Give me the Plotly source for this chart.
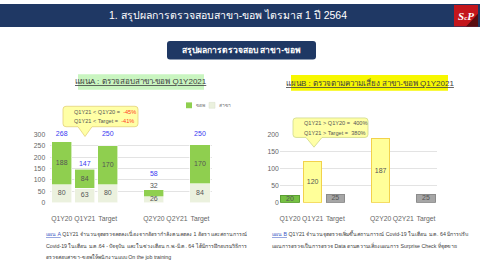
import plotly.graph_objects as go

# ---------------- data ----------------
cats_a = ["Q1Y20", "Q1Y21", "Target", "", "Q2Y20", "Q2Y21", "Target"]
branch_a = [80, 63, 80, None, 26, None, 84]      # สาขา (light)
kop_a = [188, 84, 170, None, 32, None, 170]      # ขอพ (green)
total_a = [268, 147, 250, None, 58, None, 250]

cats_b = ["Q1Y20", "Q1Y21", "Target", "", "Q2Y20", "Q2Y21", "Target"]
vals_b = [20, 120, 25, None, 187, None, 25]
kind_b = ["prev", "curr", "target", None, "curr", None, "target"]

W, H = 480, 270
def X(p): return p / W
def Y(p): return 1 - p / H

FONT = "Tahoma, 'Liberation Sans', 'Noto Sans', sans-serif"
GREEN = "#8fcf4f"
LIGHT = "#ebf1de"
GRID = "#e3e3e3"
TICK = "#666666"
TXT = "#404040"
NAVY = "#1f3864"

fig = go.Figure()

idx_a = list(range(len(cats_a)))
fig.add_trace(go.Bar(x=idx_a, y=branch_a, marker=dict(color=LIGHT, line=dict(color="#ffffff", width=0.6)),
                     xaxis="x", yaxis="y", showlegend=False, hoverinfo="skip"))
fig.add_trace(go.Bar(x=idx_a, y=kop_a, marker=dict(color=GREEN, line=dict(color="#ffffff", width=0.6)),
                     xaxis="x", yaxis="y", showlegend=False, hoverinfo="skip"))

# inner / outer labels chart A
lx, ly, lt = [], [], []
ox, oy, ot = [], [], []
tx, ty, tt = [], [], []
for i, (b, k, t) in enumerate(zip(branch_a, kop_a, total_a)):
    if b is None:
        continue
    lx.append(i); ly.append(b / 2); lt.append(str(b))
    if k >= 40:
        lx.append(i); ly.append(b + k / 2); lt.append(str(k))
        ty.append(300 if t >= 200 else t + 24)
    else:
        ox.append(i); oy.append(t + 16); ot.append(str(k))
        ty.append(t + 66)
    tx.append(i); tt.append(str(t))
fig.add_trace(go.Scatter(x=lx + ox, y=ly + oy, text=lt + ot, mode="text",
                         textfont=dict(size=7, color="#555555", family=FONT),
                         xaxis="x", yaxis="y", showlegend=False, hoverinfo="skip", cliponaxis=False))
fig.add_trace(go.Scatter(x=tx, y=ty, text=tt, mode="text",
                         textfont=dict(size=7, color="#3b3bf0", family=FONT),
                         xaxis="x", yaxis="y", showlegend=False, hoverinfo="skip", cliponaxis=False))

# chart B
idx_b = list(range(len(cats_b)))
fillmap = {"prev": "#76c043", "curr": "#ffff99", "target": "#a6a6a6", None: "rgba(0,0,0,0)"}
linemap = {"prev": "#5a9e32", "curr": "#f2d24b", "target": "#8c8c8c", None: "rgba(0,0,0,0)"}
fig.add_trace(go.Bar(x=idx_b, y=vals_b,
                     marker=dict(color=[fillmap[k] for k in kind_b],
                                 line=dict(color=[linemap[k] for k in kind_b], width=1)),
                     width=0.8,
                     xaxis="x2", yaxis="y2", showlegend=False, hoverinfo="skip"))
bx = [i for i, v in enumerate(vals_b) if v is not None]
fig.add_trace(go.Scatter(x=bx, y=[vals_b[i] / 2 for i in bx], text=[str(vals_b[i]) for i in bx],
                         mode="text", textfont=dict(size=7, color="#555555", family=FONT),
                         xaxis="x2", yaxis="y2", showlegend=False, hoverinfo="skip", cliponaxis=False))

axfont = dict(size=6.8, color=TICK, family=FONT)
fig.update_layout(
    width=W, height=H, margin=dict(l=0, r=0, t=0, b=0),
    paper_bgcolor="white", plot_bgcolor="white",
    barmode="stack", bargap=0.13,
    font=dict(family=FONT),
    xaxis=dict(domain=[X(50.2), X(211.5)], range=[-0.5, 6.5], tickvals=idx_a, ticktext=cats_a,
               showgrid=False, zeroline=False, showline=False, ticks="", tickfont=axfont, anchor="y",
               tickangle=0, ticklabelstandoff=10),
    yaxis=dict(domain=[Y(204), Y(134)], range=[0, 300], dtick=50, showgrid=True, gridcolor=GRID,
               gridwidth=1, zeroline=False, showline=False, ticks="", tickfont=axfont, anchor="x",
               ticklabelstandoff=4),
    xaxis2=dict(domain=[X(279.8), X(437.3)], range=[-0.45, 6.5], tickvals=idx_b, ticktext=cats_b,
                showgrid=False, zeroline=False, showline=False, ticks="", tickfont=axfont, anchor="y2",
                tickangle=0, ticklabelstandoff=10),
    yaxis2=dict(domain=[Y(204), Y(134)], range=[0, 200], dtick=50, showgrid=True, gridcolor=GRID,
                gridwidth=1, zeroline=False, showline=False, ticks="", tickfont=axfont, anchor="x2"),
)

shapes = []
ann = []

def note(x, y, text, size, color, anchor="center", family=FONT):
    ann.append(dict(x=X(x), y=Y(y), xref="paper", yref="paper", showarrow=False,
                    xanchor=anchor, yanchor="middle", text=text,
                    font=dict(size=size, color=color, family=family)))

# header band
shapes.append(dict(type="rect", xref="paper", yref="paper", x0=0, x1=1, y0=Y(23.5), y1=1,
                   fillcolor=NAVY, line=dict(width=0), layer="below"))
note(228, 12, "1. สรุปผลการตรวจสอบสาขา-ขอพ ไตรมาส 1 ปี 2564", 10.5, "white")
# logo
shapes.append(dict(type="rect", xref="paper", yref="paper", x0=X(454), x1=X(478), y0=Y(23), y1=Y(1),
                   fillcolor="#c4161c", line=dict(width=0)))
shapes.append(dict(type="path", xref="paper", yref="paper",
                   path=f"M {X(466)},{Y(23)} L {X(478)},{Y(23)} L {X(478)},{Y(10)} Z",
                   fillcolor="#5a0d10", line=dict(width=0)))
note(466, 12, "<i><b>S<span style='font-size:7px'>c</span>P</b></i>", 11, "white",
     family="'Liberation Serif', serif")

# subtitle box
def rrect(x0, y0, x1, y1, r):
    rx, ry = r / W, r / H
    a, b, c, d = X(x0), Y(y1), X(x1), Y(y0)
    return (f"M {a+rx},{b} L {c-rx},{b} Q {c},{b} {c},{b+ry} L {c},{d-ry} Q {c},{d} {c-rx},{d} "
            f"L {a+rx},{d} Q {a},{d} {a},{d-ry} L {a},{b+ry} Q {a},{b} {a+rx},{b} Z")

shapes.append(dict(type="path", xref="paper", yref="paper", path=rrect(167, 38, 316, 57, 3),
                   fillcolor=NAVY, line=dict(width=0)))
note(241.5, 47.5, "<b>สรุปผลการตรวจสอบ สาขา-ขอพ</b>", 8.5, "white")

# chart titles
shapes.append(dict(type="rect", xref="paper", yref="paper", x0=X(78), x1=X(204), y0=Y(88), y1=Y(72),
                   fillcolor="#c9f5c0", line=dict(width=0)))
note(141, 80, "<span style='text-decoration:underline'>แผนA : ตรวจสอบสาขา-ขอพ Q1Y2021</span>", 8, TXT)
shapes.append(dict(type="rect", xref="paper", yref="paper", x0=X(291), x1=X(448), y0=Y(89), y1=Y(73),
                   fillcolor="#f7f700", line=dict(width=0)))
note(369.5, 81, "<span style='text-decoration:underline'>แผนB : ตรวจตามความเสี่ยง สาขา-ขอพ Q1Y2021</span>", 8, TXT)

# legend (chart A)
shapes.append(dict(type="rect", xref="paper", yref="paper", x0=X(186), x1=X(192), y0=Y(107), y1=Y(101),
                   fillcolor=GREEN, line=dict(width=0)))
note(194, 104, "ขอพ", 5, "#777777", "left")
shapes.append(dict(type="rect", xref="paper", yref="paper", x0=X(209), x1=X(215), y0=Y(107), y1=Y(101),
                   fillcolor=LIGHT, line=dict(color="#d8dfc8", width=0.5)))
note(217, 104, "สาขา", 5, "#777777", "left")

# callouts
def callout(x0, y0, x1, y1, bx0, bx1, tipx, tipy, r=3):
    rx, ry = r / W, r / H
    a, b, c, d = X(x0), Y(y1), X(x1), Y(y0)
    return (f"M {a+rx},{b} L {X(bx0)},{b} L {X(tipx)},{Y(tipy)} L {X(bx1)},{b} L {c-rx},{b} "
            f"Q {c},{b} {c},{b+ry} L {c},{d-ry} Q {c},{d} {c-rx},{d} "
            f"L {a+rx},{d} Q {a},{d} {a},{d-ry} L {a},{b+ry} Q {a},{b} {a+rx},{b} Z")

shapes.append(dict(type="path", xref="paper", yref="paper",
                   path=callout(63, 105, 138, 126, 78, 92, 85, 136),
                   fillcolor="#ffffa6", line=dict(color="#e3d27a", width=0.8)))
note(72, 111, "Q1Y21 < Q1Y20 =  <span style='color:#ff3b1f'>-45%</span>", 5.6, "#555555", "left")
note(72, 120, "Q1Y21 < Target =  <span style='color:#ff3b1f'>-41%</span>", 5.6, "#555555", "left")

shapes.append(dict(type="path", xref="paper", yref="paper",
                   path=callout(293, 117, 368, 137, 306, 322, 314, 147),
                   fillcolor="#ffffa6", line=dict(color="#cfd98a", width=0.8)))
note(302, 122, "Q1Y21 > Q1Y20 =  400%", 5.6, "#555555", "left")
note(302, 132, "Q1Y21 > Target =  380%", 5.6, "#555555", "left")

# bottom notes
note_a = ["<span style='color:#3a57c4;text-decoration:underline'>แผน A</span> Q1Y21 จำนวนจุดตรวจลดลงเนื่องจากอัตรากำลังคนลดลง 1 อัตรา และสถานการณ์",
          "Covid-19 ในเดือน ม.ค.64 - ปัจจุบัน และในช่วงเดือน ก.พ.-มี.ค. 64 ได้มีการฝึกอบรมวิธีการ",
          "ตรวจสอบสาขา-ขอพให้พนักงานแบบ On the job training"]
note_b = ["<span style='color:#3a57c4;text-decoration:underline'>แผน B</span> Q1Y21 จำนวนจุดตรวจเพิ่มขึ้นสถานการณ์ Covid-19 ในเดือน ม.ค. 64 มีการปรับ",
          "แผนการตรวจเป็นการตรวจ Data ตามความเสี่ยงแผนการ Surprise Check ที่จุดขาย"]
for i, line in enumerate(note_a):
    note(44, 236 + 12 * i, line, 5.25, TXT, "left")
for i, line in enumerate(note_b):
    note(270, 236 + 12 * i, line, 5.25, TXT, "left")

fig.update_layout(shapes=shapes, annotations=ann)
fig.write_html("out.html")
